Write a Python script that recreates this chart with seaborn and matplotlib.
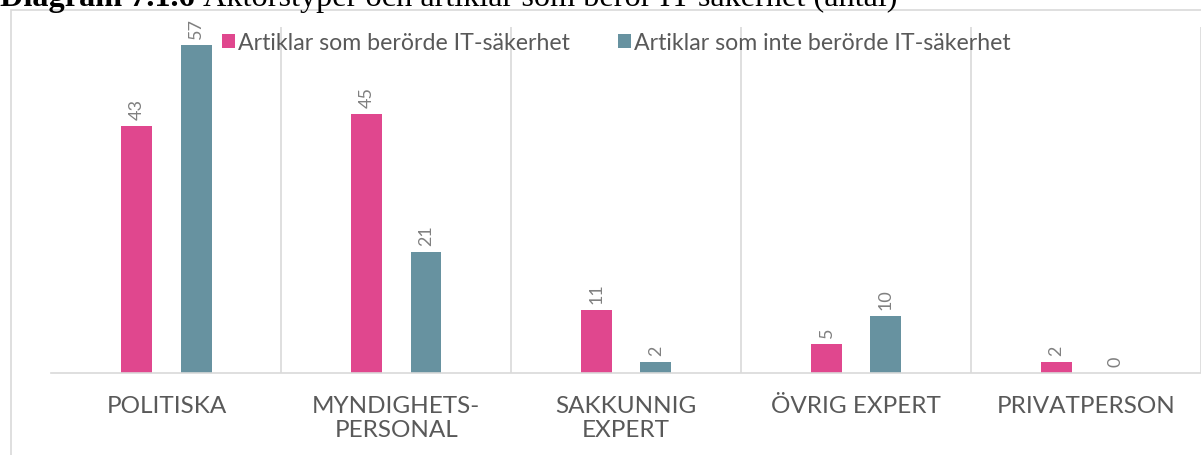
import pandas as pd
import matplotlib.pyplot as plt
import seaborn as sns
from matplotlib.patches import Rectangle

# Data
categories = ['POLITISKA', 'MYNDIGHETS-\nPERSONAL', 'SAKKUNNIG\nEXPERT', 'ÖVRIG EXPERT', 'PRIVATPERSON']
series = ['Artiklar som berörde IT-säkerhet', 'Artiklar som inte berörde IT-säkerhet']
it_related = [43, 45, 11, 5, 2]
not_it_related = [57, 21, 2, 10, 0]
colors = ['#E0478E', '#6792A0']

df = pd.DataFrame({
    'Aktör': categories * 2,
    'Serie': [series[0]] * 5 + [series[1]] * 5,
    'Antal': it_related + not_it_related,
})

sns.set_theme(style='white')
plt.rcParams['font.family'] = ['Lato', 'DejaVu Sans']

W, H = 1201, 456
fig = plt.figure(figsize=(W / 100, H / 100), dpi=100)
ax = fig.add_axes([51.5 / W, (H - 374) / H, (W - 51.5) / W, (374 - 28) / H])

sns.barplot(data=df, x='Aktör', y='Antal', hue='Serie', hue_order=series,
            palette=colors, width=0.516, gap=0.48, saturation=1,
            edgecolor='none', ax=ax)

for cont in ax.containers:
    ax.bar_label(cont, rotation=90, padding=5, fontsize=13, color='#808080')

ax.set_ylim(0, 60.2)
ax.set_xlim(-0.5, 4.5)
ax.set_xlabel('')
ax.set_ylabel('')
ax.set_yticks([])
for s in ['top', 'right', 'left']:
    ax.spines[s].set_visible(False)
ax.spines['bottom'].set_color('#d9d9d9')
ax.spines['bottom'].set_linewidth(1.2)

# vertical separators between categories
ax.set_xticks([i - 0.5 for i in range(6)], minor=True)
ax.grid(True, which='minor', axis='x', color='#d9d9d9', linewidth=1.2)
ax.grid(False, which='major')
ax.tick_params(axis='x', which='both', length=0)
ax.tick_params(axis='x', which='major', pad=16, labelsize=17.5, labelcolor='#595959')
for lbl in ax.get_xticklabels():
    lbl.set_linespacing(1.15)

# legend on top
handles, labels = ax.get_legend_handles_labels()
ax.legend(handles, labels, loc='center left', bbox_to_anchor=(222 / W, 1 - 44 / H),
          bbox_transform=fig.transFigure, ncol=2, frameon=False,
          handlelength=0.55, handleheight=0.55, handletextpad=0.12,
          columnspacing=2.1, fontsize=16.7, labelcolor='#595959',
          borderaxespad=0, borderpad=0)

# outer chart frame
fig.add_artist(Rectangle((10.5 / W, -0.1), 1.2, (H - 10.5) / H + 0.1,
                         transform=fig.transFigure, fill=False,
                         edgecolor='#d9d9d9', linewidth=1.2))

# cropped caption at the very top (cut off in the source as well)
t1 = fig.text(0.0, 1 - 6 / H, 'Diagram 7.1.6 ', family='Liberation Serif',
              fontweight='bold', fontsize=23.2, va='baseline', color='black')
fig.canvas.draw()
bb = t1.get_window_extent()
fig.text(bb.x1 / W, 1 - 6 / H, 'Aktörstyper och artiklar som berör IT-säkerhet (antal)',
         family='Liberation Serif', fontsize=23.2, va='baseline', color='black')

fig.savefig('out.png', dpi=100)
